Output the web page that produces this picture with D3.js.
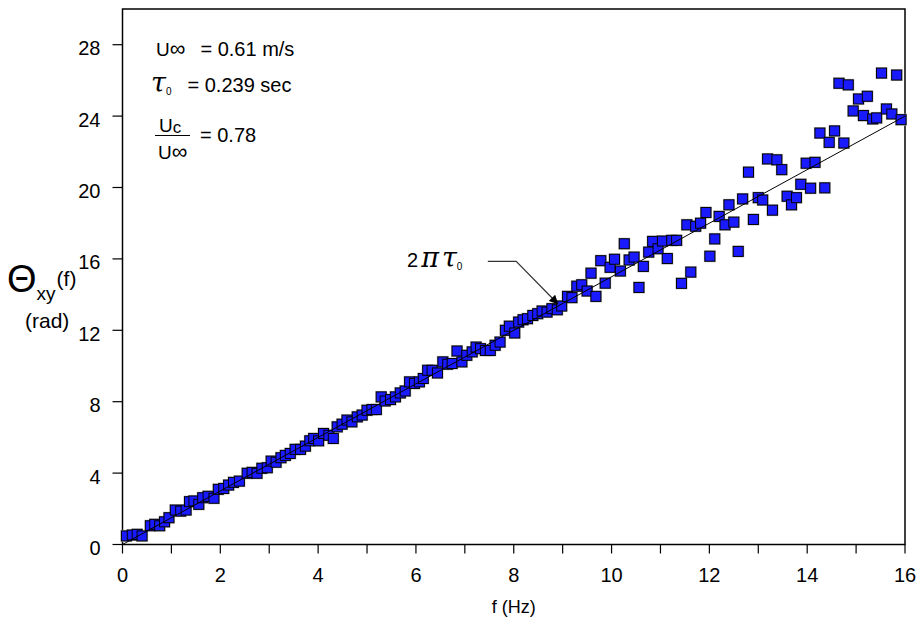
<!DOCTYPE html>
<html>
<head>
<meta charset="utf-8">
<script src="https://cdn.jsdelivr.net/npm/d3@7"></script>
<style>
  body { margin: 0; background: #fff; }
  svg { font-family: "Liberation Sans", Arial, sans-serif; }
</style>
</head>
<body>
<svg id="chart" width="922" height="621"></svg>
<script>
const freq = [
  0.08, 0.2, 0.3, 0.4, 0.57, 0.66, 0.76, 0.86, 0.95, 1.08,
  1.19, 1.3, 1.37, 1.46, 1.56, 1.64, 1.75, 1.87, 1.96, 2.07,
  2.17, 2.27, 2.39, 2.55, 2.65, 2.75, 2.85, 2.96, 3.04, 3.14,
  3.24, 3.33, 3.43, 3.53, 3.64, 3.74, 3.83, 3.91, 4.01, 4.11,
  4.22, 4.31, 4.39, 4.49, 4.59, 4.69, 4.8, 4.9, 5.0, 5.1,
  5.19, 5.29, 5.37, 5.48, 5.58, 5.68, 5.78, 5.87, 5.97, 6.07,
  6.15, 6.24, 6.33, 6.44, 6.55, 6.65, 6.74, 6.84, 6.94, 7.04,
  7.15, 7.23, 7.32, 7.42, 7.52, 7.62, 7.72, 7.83, 7.91, 8.02,
  8.1, 8.19, 8.28, 8.39, 8.49, 8.58, 8.68, 8.78, 8.89, 8.98,
  9.1, 9.19, 9.29, 9.39, 9.5, 9.58, 9.68, 9.78, 9.87, 9.97,
  10.06, 10.18, 10.26, 10.36, 10.46, 10.56, 10.65, 10.76, 10.84, 10.95,
  11.04, 11.14, 11.23, 11.33, 11.43, 11.54, 11.62, 11.72, 11.82, 11.93,
  12.01, 12.11, 12.2, 12.32, 12.4, 12.5, 12.59, 12.68, 12.8, 12.9,
  13.0, 13.09, 13.19, 13.29, 13.38, 13.48, 13.59, 13.68, 13.78, 13.87,
  13.98, 14.07, 14.16, 14.26, 14.36, 14.45, 14.56, 14.65, 14.75, 14.84,
  14.94, 15.05, 15.15, 15.23, 15.34, 15.42, 15.52, 15.62, 15.73, 15.83,
  15.92
];
const phase = [
  0.48, 0.53, 0.57, 0.48, 1.05, 1.13, 1.05, 1.27, 1.5, 1.93,
  1.87, 1.93, 2.4, 2.44, 2.25, 2.62, 2.7, 2.59, 3.09, 3.14,
  3.33, 3.48, 3.55, 3.99, 4.04, 3.99, 4.27, 4.3, 4.67, 4.61,
  4.86, 4.99, 5.1, 5.33, 5.33, 5.51, 5.81, 5.94, 5.81, 6.22,
  6.12, 5.94, 6.59, 6.74, 6.97, 6.87, 7.15, 7.25, 7.52, 7.56,
  7.56, 8.27, 8.04, 8.12, 8.27, 8.49, 8.6, 9.11, 9.02, 9.11,
  9.3, 9.76, 9.76, 9.61, 10.23, 10.1, 10.14, 10.84, 10.23, 10.6,
  10.79, 11.06, 10.97, 10.87, 10.87, 11.16, 11.34, 12.0, 12.23, 11.85,
  12.46, 12.59, 12.65, 12.83, 12.93, 13.08, 13.02, 13.21, 13.15, 13.36,
  13.9, 13.83, 14.47, 14.55, 14.2, 15.2, 13.9, 15.9, 14.64, 15.53,
  15.98, 15.32, 16.85, 15.94, 16.1, 14.4, 15.58, 16.38, 16.98, 16.57,
  17.0, 16.02, 17.04, 17.04, 14.63, 17.91, 15.26, 17.83, 18.0, 18.6,
  16.15, 17.12, 18.38, 17.91, 19.03, 18.06, 16.42, 19.36, 20.86, 18.21,
  19.43, 19.3, 21.6, 18.73, 21.55, 21.0, 19.51, 19.03, 19.43, 20.18,
  21.36, 19.96, 21.41, 23.05, 19.98, 22.53, 23.17, 25.84, 22.49, 25.75,
  24.29, 24.96, 24.03, 25.11, 23.84, 23.9, 26.41, 24.4, 24.12, 26.3,
  23.8
];
// 2*pi*tau0 line, end points
const fitF = [0, 16];
const fitPhase = [0, 24.0];

const xTicks = d3.range(0, 17, 1);
const xLabels = [0, 2, 4, 6, 8, 10, 12, 14, 16];
const yTicks = [0, 4, 8, 12, 16, 20, 24, 28];

const data = freq.map((f, i) => ({ f: f, v: phase[i] }));

const svg = d3.select("#chart");
const plotLeft = 122.5, plotRight = 905, plotTop = 9, plotBottom = 544.5;

const x = d3.scaleLinear().domain([0, 16]).range([plotLeft, plotRight]);
const y = d3.scaleLinear().domain([0, 30]).range([plotBottom, plotTop]);

// plot frame
svg.append("rect")
  .attr("x", plotLeft).attr("y", plotTop)
  .attr("width", plotRight - plotLeft).attr("height", plotBottom - plotTop)
  .attr("fill", "none").attr("stroke", "#000").attr("stroke-width", 1.5);

// x axis
const xAxis = svg.append("g").attr("transform", `translate(0,${plotBottom})`);
xAxis.selectAll("line")
  .data(xTicks)
  .enter()
  .append("line")
  .attr("x1", d => x(d)).attr("x2", d => x(d))
  .attr("y1", 0).attr("y2", 9)
  .attr("stroke", "#000").attr("stroke-width", 1.2);
xAxis.selectAll("text")
  .data(xLabels)
  .enter()
  .append("text")
  .attr("x", d => x(d)).attr("y", 37.5)
  .attr("text-anchor", "middle")
  .attr("font-size", 20)
  .text(d => d);

// y axis
const yAxis = svg.append("g").attr("transform", `translate(${plotLeft},0)`);
yAxis.selectAll("line")
  .data(yTicks)
  .enter()
  .append("line")
  .attr("x1", -10).attr("x2", 0)
  .attr("y1", d => y(d)).attr("y2", d => y(d))
  .attr("stroke", "#000").attr("stroke-width", 1.2);
yAxis.selectAll("text")
  .data(yTicks)
  .enter()
  .append("text")
  .attr("x", -22).attr("y", d => y(d) + 10.5)
  .attr("text-anchor", "end")
  .attr("font-size", 20)
  .text(d => d);

// axis titles
svg.append("text")
  .attr("x", (plotLeft + plotRight) / 2).attr("y", 613)
  .attr("text-anchor", "middle")
  .attr("font-size", 18)
  .text("f (Hz)");

const yt = svg.append("text").attr("x", 7).attr("y", 292);
yt.append("tspan").attr("font-size", 38).text("Θ");
yt.append("tspan").attr("font-size", 19).attr("dy", 8).text("xy");
yt.append("tspan").attr("font-size", 21).attr("dy", -14).attr("dx", 1).text("(f)");
svg.append("text").attr("x", 25).attr("y", 328).attr("font-size", 21).text("(rad)");

// data squares
const pts = svg.append("g");
pts.selectAll("rect.shadow")
  .data(data)
  .enter()
  .append("rect")
  .attr("class", "shadow")
  .attr("x", d => x(d.f) - 6).attr("y", d => y(d.v) - 6)
  .attr("width", 12).attr("height", 12)
  .attr("fill", "#b8b8b8");
pts.selectAll("rect.pt")
  .data(data)
  .enter()
  .append("rect")
  .attr("class", "pt")
  .attr("x", d => x(d.f) - 5).attr("y", d => y(d.v) - 5)
  .attr("width", 10).attr("height", 10)
  .attr("fill", "#1a1aff")
  .attr("stroke", "#000").attr("stroke-width", 1);

// fitted line
svg.append("line")
  .attr("x1", x(fitF[0])).attr("y1", y(fitPhase[0]))
  .attr("x2", x(fitF[1])).attr("y2", y(fitPhase[1]))
  .attr("stroke", "#000").attr("stroke-width", 1);

// annotation 2 pi tau0 with arrow
svg.append("defs").append("marker")
  .attr("id", "arr")
  .attr("viewBox", "0 0 10 10")
  .attr("refX", 10).attr("refY", 5)
  .attr("markerWidth", 11).attr("markerHeight", 9)
  .attr("markerUnits", "userSpaceOnUse")
  .attr("orient", "auto")
  .append("path").attr("d", "M0,0L10,5L0,10z").attr("fill", "#000");

const tipF = 8.91, tipV = 13.46;
svg.append("polyline")
  .attr("points", [
    [x(7.47), y(15.86)],
    [x(8.05), y(15.86)],
    [x(tipF), y(tipV)]
  ].map(p => p.join(",")).join(" "))
  .attr("fill", "none")
  .attr("stroke", "#333").attr("stroke-width", 1.2)
  .attr("marker-end", "url(#arr)");

const ann = svg.append("text").attr("x", 407).attr("y", 267);
ann.append("tspan").attr("font-size", 20).text("2");
ann.append("tspan").attr("font-size", 27).attr("dx", 3).attr("font-family", "DejaVu Serif").attr("font-style", "italic").text("π");
ann.append("tspan").attr("font-size", 27).attr("dx", 3).attr("font-family", "DejaVu Serif").attr("font-style", "italic").text("τ");
ann.append("tspan").attr("font-size", 10).attr("dy", 3).text("0");

// parameter block
const l1 = svg.append("text").attr("x", 156).attr("y", 56).attr("font-size", 20);
l1.append("tspan").attr("font-size", 19).text("U");
l1.append("tspan").attr("font-size", 22).text("∞");
l1.append("tspan").attr("dx", 15).text("= 0.61 m/s");

const l2 = svg.append("text").attr("x", 151).attr("y", 92).attr("font-size", 20);
l2.append("tspan").attr("font-size", 27).attr("font-family", "DejaVu Serif").attr("font-style", "italic").text("τ");
l2.append("tspan").attr("font-size", 10).attr("dy", 3).text("0");
l2.append("tspan").attr("dy", -3).attr("dx", 16).text("= 0.239 sec");

const num = svg.append("text").attr("x", 159).attr("y", 132).attr("font-size", 19);
num.append("tspan").text("U");
num.append("tspan").attr("dy", 1).attr("font-size", 17).text("c");
svg.append("line")
  .attr("x1", 155).attr("x2", 190).attr("y1", 135.5).attr("y2", 135.5)
  .attr("stroke", "#000").attr("stroke-width", 1);
const den = svg.append("text").attr("x", 158).attr("y", 159).attr("font-size", 19);
den.append("tspan").text("U");
den.append("tspan").attr("font-size", 22).text("∞");
svg.append("text").attr("x", 200).attr("y", 142).attr("font-size", 20).text("= 0.78");
</script>
</body>
</html>
